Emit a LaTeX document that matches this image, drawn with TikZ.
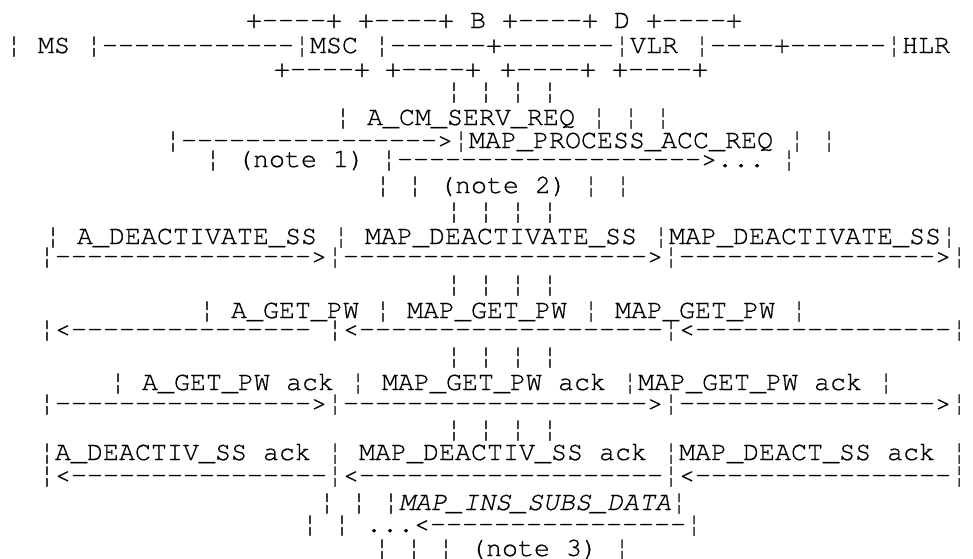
\documentclass[tikz,border=0pt]{standalone}
\usepackage{fontspec}
\setmonofont{texgyrecursor}[Extension=.otf, UprightFont=*-regular, ItalicFont=*-italic, BoldFont=*-bold, FakeBold=0.6]
\ExplSyntaxOn
\newcommand\dsh[1]{\prg_replicate:nn{#1}{-}}
\ExplSyntaxOff
\begin{document}
\begin{tikzpicture}[x=1pt,y=-1pt,
  txt/.style={anchor=base west, inner sep=0pt, outer sep=0pt,
    font=\ttfamily\fontsize{26.67pt}{26.67pt}\selectfont}]
\fill[white] (0,0) rectangle (973,558);
\useasboundingbox (0,0) rectangle (973,558);
\node[txt] (r1) at (246,28) {+\dsh{4}+ +\dsh{4}+ B +\dsh{4}+ D +\dsh{4}+};
\node[txt] (r2) at (6,53) {¦ MS ¦\dsh{12}¦MSC ¦\dsh{6}+\dsh{7}¦VLR ¦\dsh{4}+\dsh{6}¦HLR};
\node[txt] (r3a) at (274,77) {+\dsh{4}+};
\node[txt] (r3b) at (385,77) {+\dsh{4}+};
\node[txt] (r3c) at (500,77) {+\dsh{4}+};
\node[txt] (r3d) at (612,77) {+\dsh{4}+};
\node[txt] (r4) at (446,99) {¦ ¦ ¦ ¦};
\node[txt] (r5) at (335,125) {¦ A\_CM\_SERV\_REQ ¦ ¦ ¦};
\node[txt] (r6) at (165,148) {¦\dsh{16}>¦MAP\_PROCESS\_ACC\_REQ ¦ ¦};
\node[txt] (r7) at (205,167) {¦ (note 1) ¦\dsh{19}>... ¦};
\node[txt] (r8) at (375,193) {¦ ¦ (note 2) ¦ ¦};
\node[txt] (r9) at (446,219) {¦ ¦ ¦ ¦};
\node[txt] (r10) at (45,244) {¦ A\_DEACTIVATE\_SS ¦ MAP\_DEACTIVATE\_SS ¦MAP\_DEACTIVATE\_SS¦};
\node[txt] (r11) at (39,264) {¦\dsh{16}>¦\dsh{19}>¦\dsh{16}>¦};
\node[txt] (r12) at (446,292) {¦ ¦ ¦ ¦};
\node[txt] (r13) at (199,318) {¦ A\_GET\_PW ¦ MAP\_GET\_PW ¦ MAP\_GET\_PW ¦};
\node[txt] (r14) at (39,337) {¦<\dsh{15} ¦<\dsh{19}¦<\dsh{16}¦};
\node[txt] (r15) at (446,364) {¦ ¦ ¦ ¦};
\node[txt] (r16) at (110,390) {¦ A\_GET\_PW ack ¦ MAP\_GET\_PW ack ¦MAP\_GET\_PW ack ¦};
\node[txt] (r17) at (39,411) {¦\dsh{16}>¦\dsh{19}>¦\dsh{16}>¦};
\node[txt] (r18) at (446,437) {¦ ¦ ¦ ¦};
\node[txt] (r19) at (39,460) {¦A\_DEACTIV\_SS ack ¦ MAP\_DEACTIV\_SS ack ¦MAP\_DEACT\_SS ack ¦};
\node[txt] (r20) at (39,483) {¦<\dsh{16}¦<\dsh{19}¦<\dsh{16}¦};
\node[txt] (r21) at (319,510) {¦ ¦ ¦\textit{MAP\_INS\_SUBS\_DATA}¦};
\node[txt] (r22) at (302,532) {¦ ¦ ...<\dsh{16}¦};
\node[txt] (r23) at (374,556) {¦ ¦ ¦ (note 3) ¦};
\end{tikzpicture}
\end{document}
